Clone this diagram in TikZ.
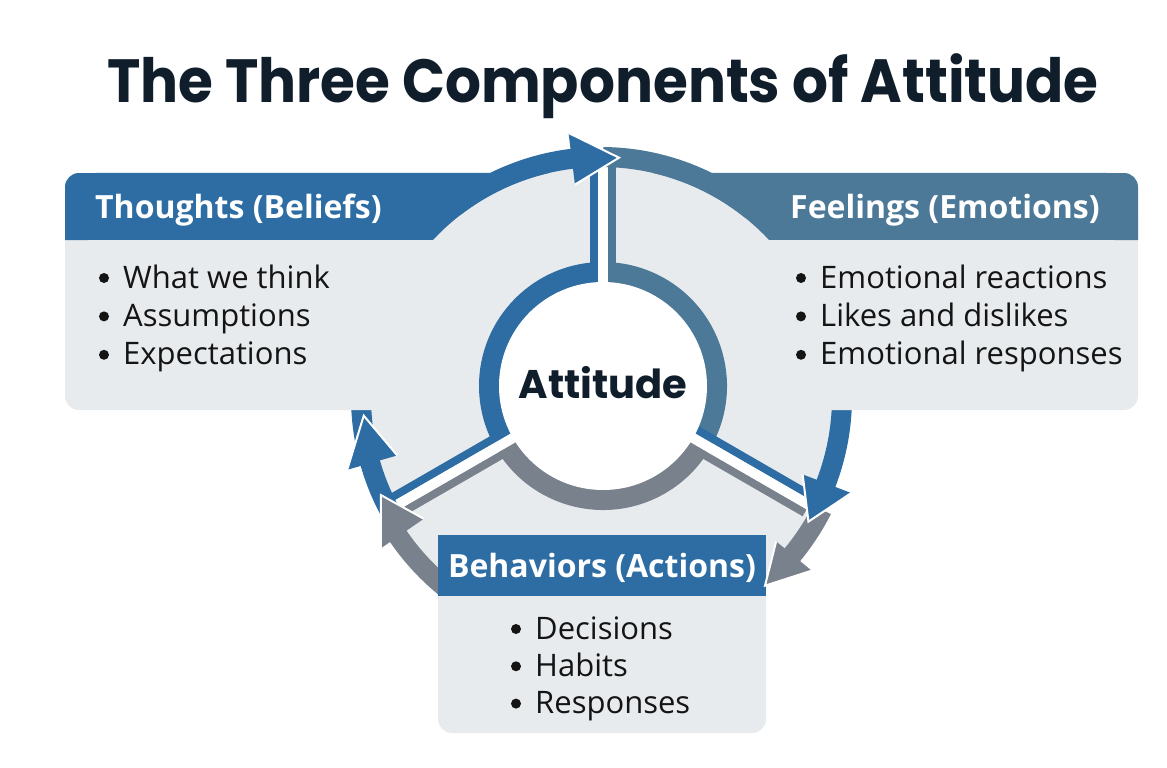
\documentclass[tikz,border=0pt]{standalone}
\usepackage{fontspec}
\setmainfont{Open Sans}
\newfontfamily\titlefont{Poppins}[FakeStretch=0.925]
\newfontfamily\corefont{Poppins}
\usetikzlibrary{positioning}
\definecolor{attblue}{RGB}{45,109,163}
\definecolor{attsteel}{RGB}{77,121,152}
\definecolor{attgray}{RGB}{121,130,140}
\definecolor{attfill}{RGB}{232,235,237}
\definecolor{attnavy}{RGB}{16,30,44}
\tikzstyle{head}=[font=\bfseries\fontsize{32}{38}\selectfont,text=white,inner sep=0]
\tikzstyle{item}=[font=\fontsize{31}{37}\selectfont,text=black!92,inner sep=0,anchor=base west]
\tikzstyle{dot}=[fill=black!92]
\tikzstyle{arcline}=[line width=20pt]
\tikzstyle{panel}=[fill=attfill,rounded corners=14pt]
\newcommand{\arctip}[5]{%
  \fill[#1] ([shift={(cb)}]#2:{#4-#5}) -- ([shift={(cb)}]#2:{#4+#5}) -- ([shift={(cb)}]#3:#4) -- cycle;
  \draw[white,line width=2pt] ([shift={(cb)}]#2:{#4-#5}) -- ([shift={(cb)}]#3:#4) -- ([shift={(cb)}]#2:{#4+#5});
}

\begin{document}
\begin{tikzpicture}[x=1pt,y=1pt]
  \useasboundingbox (0,0) rectangle (1167,-768);
  \fill[white] (0,0) rectangle (1167,-768);
  \coordinate (cb) at (601,-397);
  \coordinate (ci) at (603,-386);

  \fill[attfill] (cb) circle[radius=248];

  \fill[attblue] (ci) -- ([shift={(ci)}]90:124) arc[start angle=90,end angle=210,radius=124] -- cycle;
  \fill[attgray] (ci) -- ([shift={(ci)}]210:124) arc[start angle=210,end angle=330,radius=124] -- cycle;
  \fill[attsteel] (ci) -- ([shift={(ci)}]-30:124) arc[start angle=-30,end angle=90,radius=124] -- cycle;
  \begin{scope}[shift={(ci)},rotate=90]
    \fill[attblue] (100,5) rectangle (222,13);
    \fill[attsteel] (100,-13) rectangle (222,-5);
    \fill[white] (0,-5) rectangle (222,5);
  \end{scope}
  \begin{scope}[shift={(ci)},rotate=210]
    \fill[attblue] (100,-13) rectangle (238,-5);
    \fill[attgray] (100,5) rectangle (238,13);
    \fill[white] (0,-5) rectangle (238,5);
  \end{scope}
  \begin{scope}[shift={(ci)},rotate=330]
    \fill[attblue] (100,5) rectangle (238,13);
    \fill[attgray] (100,-13) rectangle (238,-5);
    \fill[white] (0,-5) rectangle (238,5);
  \end{scope}
  \fill[white] (ci) circle[radius=104];

  \draw[arcline,attblue] ([shift={(cb)}]208:240) arc[start angle=208,end angle=96,radius=240];
  \draw[arcline,attsteel] ([shift={(cb)}]89.5:240) arc[start angle=89.5,end angle=-2,radius=240];
  \draw[arcline,attblue] ([shift={(cb)}]2:241) arc[start angle=2,end angle=-22,radius=241];
  \draw[arcline,attgray] ([shift={(cb)}]-27:248) arc[start angle=-27,end angle=-40,radius=248];
  \draw[arcline,attgray] ([shift={(cb)}]236:246) arc[start angle=236,end angle=214,radius=246];

  \fill[panel] (65,-200) rectangle (460,-410);
  \fill[attblue] (65,-240) -- (65,-187) arc[start angle=180,end angle=90,radius=14]
    -- ([shift={(cb)}]103.07:230) arc[start angle=103.07,end angle=136.94,radius=230] -- cycle;
  \fill[panel] (745,-200) rectangle (1138,-410);
  \fill[attsteel] (1138,-240) -- (1138,-187) arc[start angle=0,end angle=90,radius=14]
    -- ([shift={(cb)}]76.93:230) arc[start angle=76.93,end angle=43.06,radius=230] -- cycle;
  \fill[panel] (438,-580) rectangle (766,-733);
  \fill[attblue] (438,-535) rectangle (766,-596);

  \arctip{attblue}{97}{85.7}{240}{26}
  \arctip{attblue}{196}{184.5}{238}{26}
  \arctip{attgray}{-39.5}{-49}{250}{23}
  \arctip{attblue}{-21}{-31}{242}{26}
  \arctip{attgray}{214.5}{204}{241}{26}

  \node[anchor=base,font=\titlefont\bfseries\fontsize{61}{70}\selectfont,text=attnavy] (title) at (603,-102) {The Three Components of Attitude};
  \node[anchor=base,font=\corefont\bfseries\fontsize{40}{46}\selectfont,text=attnavy] (core) at (603,-398) {Attitude};

  \node[head,anchor=base west] (thoughts) at (95,-218) {Thoughts (Beliefs)};
  \node[head,anchor=base west] (feelings) at (790,-218) {Feelings (Emotions)};
  \node[head,anchor=base] (behaviors) at (602,-577) {Behaviors (Actions)};

  \foreach \txt [count=\i] in {What we think, Assumptions, Expectations} {
    \node[item] (think\i) at (123,{-288-38.4*(\i-1)}) {\txt};
    \fill[dot] (think\i.base west) ++(-19,10) circle[radius=5];
  }
  \foreach \txt [count=\i] in {Emotional reactions, Likes and dislikes, Emotional responses} {
    \node[item] (feel\i) at (820,{-288-38.4*(\i-1)}) {\txt};
    \fill[dot] (feel\i.base west) ++(-19,10) circle[radius=5];
  }
  \foreach \txt [count=\i] in {Decisions, Habits, Responses} {
    \node[item] (act\i) at (535,{-639-37.3*(\i-1)}) {\txt};
    \fill[dot] (act\i.base west) ++(-19,10) circle[radius=5];
  }
\end{tikzpicture}
\end{document}
